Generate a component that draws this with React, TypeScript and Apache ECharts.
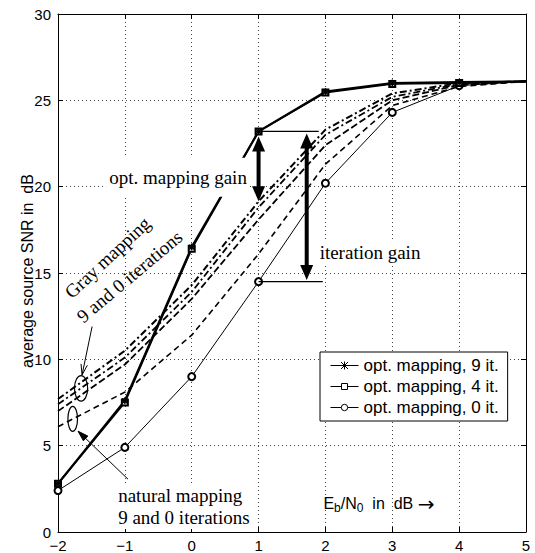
import React, { useEffect, useRef } from "react";
import * as echarts from "echarts";

// ---- data ----
const X = [-2, -1, 0, 1, 2, 3, 4, 5];
const opt9 = [2.8, 7.6, 16.5, 23.2, 25.5, 26.0, 26.05, 26.1];
const opt4 = [2.8, 7.5, 16.4, 23.2, 25.45, 25.95, 26.0, 26.1];
const opt0 = [2.4, 4.9, 9.0, 14.5, 20.2, 24.3, 25.85, 26.1];
const gray9 = [7.7, 10.5, 14.3, 19.15, 23.3, 25.4, 26.0, 26.1];
const gray0 = [7.4, 10.1, 13.9, 18.8, 23.0, 25.2, 25.95, 26.1];
const natural9 = [7.0, 9.7, 13.5, 18.1, 22.4, 25.0, 25.9, 26.1];
const natural0 = [6.1, 8.1, 11.4, 16.1, 21.3, 24.7, 25.8, 26.1];
const xRange = [-2, 5];
const yRange = [0, 30];
const legendNames = ["opt. mapping, 9 it.", "opt. mapping, 4 it.", "opt. mapping, 0 it."];

const ASTERISK = "path://M5,0L5,10M0,5L10,5M1.5,1.5L8.5,8.5M1.5,8.5L8.5,1.5";
const ICON_9 = "path://M0,4L28,4M14,0L14,8M10.5,0.5L17.5,7.5M10.5,7.5L17.5,0.5";
const ICON_4 = "path://M0,4L11,4M17,4L28,4M11,1L17,1L17,7L11,7Z";
const ICON_0 = "path://M0,4L10.8,4M17.2,4L28,4M17.2,4A3.2,3.2,0,1,1,10.8,4A3.2,3.2,0,1,1,17.2,4Z";
const SANS = "Liberation Sans";
const SERIF = "Liberation Serif";

function toData(ys: number[], hideLast = true) {
  return X.map((x, i) =>
    hideLast && i === X.length - 1 ? { value: [x, ys[i]], symbol: "none" } : [x, ys[i]]
  );
}

function txt(x: number, y: number, text: string, o: any = {}) {
  const align = o.align || "center";
  const valign = o.valign || "middle";
  const style: any = {
    legacy: false,
    text,
    fontSize: o.fontSize || 19,
    fontFamily: o.fontFamily || SERIF,
    fill: "#000",
    align,
    verticalAlign: valign,
  };
  if (o.bg) style.backgroundColor = o.bg;
  if (o.padding) style.padding = o.padding;
  if (o.lineHeight) style.lineHeight = o.lineHeight;
  if (o.rich) style.rich = o.rich;
  return { type: "text", x, y, rotation: o.rotation || 0, z: 100, style };
}

export default function App() {
  const ref = useRef<HTMLDivElement>(null);
  useEffect(() => {
    document.body.style.margin = "0";
    const chart = echarts.init(ref.current!, null, { renderer: "svg" });
    const axisLine = { show: true, onZero: false, lineStyle: { color: "#000", width: 1 } };
    const tick = { show: true, inside: true, length: 5, lineStyle: { color: "#000", width: 1 } };
    const split = { show: true, lineStyle: { type: [1, 3], color: "#444", width: 1 } };
    const labelFmt = (v: number) => String(v).replace("-", "\u2212");
    const legendItem = (name: string, icon: string, fill: string) => ({
      name,
      icon,
      itemStyle: { color: fill, borderColor: "#000", borderWidth: 1 },
    });
    const option: any = {
      animation: false,
      grid: { left: 58, right: 9, top: 14, bottom: 20 },
      xAxis: [
        {
          type: "value", min: xRange[0], max: xRange[1], interval: 1, position: "bottom",
          axisLine, axisTick: tick, splitLine: split,
          axisLabel: { color: "#000", fontSize: 15, fontFamily: SANS, margin: 6, formatter: labelFmt },
        },
        {
          type: "value", min: xRange[0], max: xRange[1], interval: 1, position: "top",
          axisLine, axisTick: tick, splitLine: { show: false }, axisLabel: { show: false },
        },
      ],
      yAxis: [
        {
          type: "value", min: yRange[0], max: yRange[1], interval: 5, position: "left",
          axisLine, axisTick: tick, splitLine: split,
          axisLabel: { color: "#000", fontSize: 15, fontFamily: SANS, margin: 7, formatter: labelFmt },
        },
        {
          type: "value", min: yRange[0], max: yRange[1], interval: 5, position: "right",
          axisLine, axisTick: tick, splitLine: { show: false }, axisLabel: { show: false },
        },
      ],
      legend: {
        data: [
          legendItem(legendNames[0], ICON_9, "#000"),
          legendItem(legendNames[1], ICON_4, "#fff"),
          legendItem(legendNames[2], ICON_0, "#fff"),
        ],
        orient: "vertical",
        left: 320,
        top: 352,
        itemWidth: 28,
        itemHeight: 8,
        itemGap: 4,
        padding: [5, 9, 5, 10],
        backgroundColor: "#fff",
        borderColor: "#000",
        borderWidth: 1,
        borderRadius: 0,
        selectedMode: false,
        textStyle: { fontSize: 17, fontFamily: SANS, color: "#000" },
      },
      series: [
        {
          name: "natural mapping, 0 it.", type: "line", data: toData(natural0), symbol: "none",
          lineStyle: { color: "#000", width: 1.6, type: [6, 4] },
        },
        {
          name: "natural mapping, 9 it.", type: "line", data: toData(natural9), symbol: "none",
          lineStyle: { color: "#000", width: 1.8, type: [7, 3] },
        },
        {
          name: "Gray mapping, 0 it.", type: "line", data: toData(gray0), symbol: "none",
          lineStyle: { color: "#000", width: 1.8, type: [7, 3, 2, 3] },
        },
        {
          name: "Gray mapping, 9 it.", type: "line", data: toData(gray9), symbol: "none",
          lineStyle: { color: "#000", width: 2, type: [7, 3, 2, 3] },
        },
        {
          name: legendNames[2], type: "line", data: toData(opt0), symbol: "emptyCircle", symbolSize: 7,
          lineStyle: { color: "#000", width: 1 }, itemStyle: { color: "#000", borderWidth: 1 },
        },
        {
          name: legendNames[1], type: "line", data: toData(opt4), symbol: "emptyRect", symbolSize: 6,
          lineStyle: { color: "#000", width: 1.8 }, itemStyle: { color: "#000", borderWidth: 1.2 },
        },
        {
          name: legendNames[0], type: "line", data: toData(opt9), symbol: ASTERISK, symbolSize: 7,
          lineStyle: { color: "#000", width: 2.2 },
          itemStyle: { color: "#000", borderColor: "#000", borderWidth: 1.4 },
        },
      ],
    };
    chart.setOption(option);

    const p = (x: number, y: number) =>
      chart.convertToPixel({ xAxisIndex: 0, yAxisIndex: 0 } as any, [x, y]) as number[];

    const g: any[] = [];
    const dbl = (x: number, yTop: number, yBot: number) => {
      const [px, pt] = p(x, yTop);
      const pb = p(x, yBot)[1];
      const hw = 6.5, hl = 15;
      g.push(
        { type: "line", z: 100, shape: { x1: px, y1: pt + hl - 1, x2: px, y2: pb - hl + 1 }, style: { stroke: "#000", lineWidth: 4 } },
        { type: "polygon", z: 100, shape: { points: [[px, pt], [px - hw, pt + hl], [px + hw, pt + hl]] }, style: { fill: "#000" } },
        { type: "polygon", z: 100, shape: { points: [[px, pb], [px - hw, pb - hl], [px + hw, pb - hl]] }, style: { fill: "#000" } }
      );
    };
    const hline = (x1: number, x2: number, y: number) => {
      const a = p(x1, y), b = p(x2, y);
      g.push({ type: "line", z: 100, shape: { x1: a[0], y1: a[1], x2: b[0], y2: b[1] }, style: { stroke: "#000", lineWidth: 1.2 } });
    };
    const thinArrow = (from: number[], to: number[], filled: boolean) => {
      const a = p(from[0], from[1]), b = p(to[0], to[1]);
      const ang = Math.atan2(b[1] - a[1], b[0] - a[0]);
      const L = 11, w = 0.3;
      const w1 = [b[0] - L * Math.cos(ang - w), b[1] - L * Math.sin(ang - w)];
      const w2 = [b[0] - L * Math.cos(ang + w), b[1] - L * Math.sin(ang + w)];
      g.push({ type: "line", z: 100, shape: { x1: a[0], y1: a[1], x2: b[0], y2: b[1] }, style: { stroke: "#000", lineWidth: 1 } });
      if (filled) {
        g.push({ type: "polygon", z: 100, shape: { points: [b, w1, w2] }, style: { fill: "#000", stroke: "#000", lineWidth: 1 } });
      } else {
        g.push({ type: "polyline", z: 100, shape: { points: [w1, b, w2] }, style: { stroke: "#000", lineWidth: 1, fill: "none" } });
      }
    };
    const ellipse = (cx: number, cy: number, rx: number, ry: number) => {
      const c = p(cx, cy);
      g.push({ type: "ellipse", z: 100, shape: { cx: c[0], cy: c[1], rx, ry }, style: { fill: "none", stroke: "#000", lineWidth: 1.2 } });
    };

    // annotations
    const c1 = p(-0.205, 20.55);
    g.push(txt(c1[0], c1[1], "opt. mapping gain", { bg: "#fff", padding: [10, 3, 10, 3] }));
    hline(1, 1.9, opt9[3]);
    hline(1, 1.96, opt0[3]);
    dbl(1, 22.9, 19.15);
    dbl(1.72, 23.08, 14.6);
    const c2 = p(2.667, 16.2);
    g.push(txt(c2[0], c2[1], "iteration gain", { bg: "#fff", padding: [2, 2, 2, 2] }));

    const gA = p(-1.26, 15.9);
    g.push(txt(gA[0], gA[1], "Gray mapping", { rotation: (43 * Math.PI) / 180 }));
    const gB = p(-0.93, 14.8);
    g.push(txt(gB[0], gB[1], "9 and 0 iterations", { rotation: (40 * Math.PI) / 180 }));
    thinArrow([-1.49, 11.9], [-1.64, 9.1], false);
    ellipse(-1.655, 8.32, 6.6, 12.8);

    ellipse(-1.78, 6.55, 4.8, 12.5);
    thinArrow([-0.953, 3.06], [-1.70, 5.84], true);
    const n1 = p(-1.13, 1.5);
    g.push(txt(n1[0], n1[1], "natural mapping\n9 and 0 iterations", { align: "left", bg: "#fff", padding: [1, 2, 1, 2], lineHeight: 22 }));

    // axis titles
    g.push(txt(27, 271, "average source SNR in  dB", { fontFamily: SANS, fontSize: 16, rotation: Math.PI / 2 }));
    const e = p(2.0, 1.75);
    g.push(
      txt(e[0] - 2, e[1] + 2, "{n|E}{s|b}{n|/N}{s|0}{n|  in  dB }{a|\u2192}", {
        fontFamily: SANS,
        fontSize: 16,
        align: "left",
        rich: {
          n: { fontSize: 16, fontFamily: SANS, lineHeight: 20, fill: "#000" },
          s: { fontSize: 12, fontFamily: SANS, lineHeight: 9, verticalAlign: "bottom", fill: "#000" },
          a: { fontSize: 20, fontFamily: "DejaVu Sans", lineHeight: 20, fill: "#000" },
        },
      })
    );

    chart.setOption({ graphic: { elements: g } });
    return () => chart.dispose();
  }, []);
  return <div ref={ref} style={{ width: 535, height: 553 }} />;
}
